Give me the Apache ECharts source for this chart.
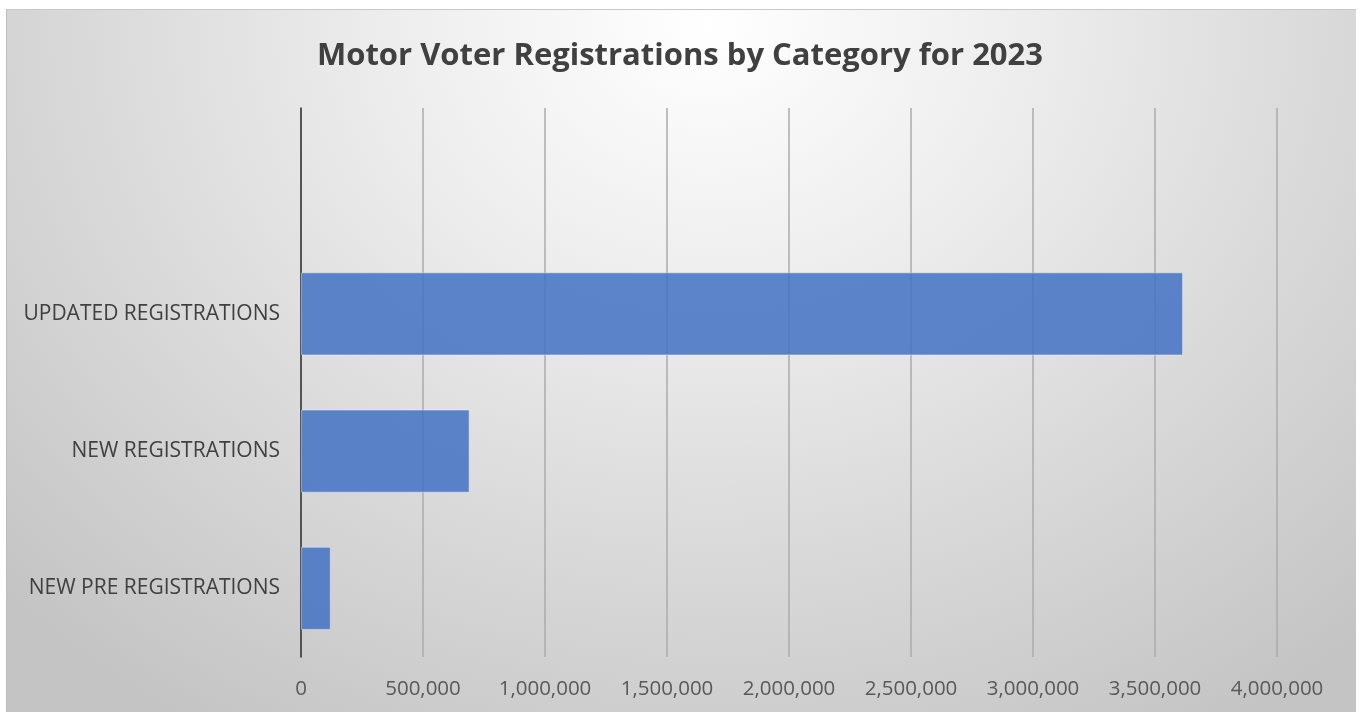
<!DOCTYPE html>
<html>
<head>
<meta charset="utf-8">
<title>Motor Voter Registrations by Category for 2023</title>
<script src="https://cdn.jsdelivr.net/npm/echarts@6/dist/echarts.min.js"></script>
<style>
  html, body { margin: 0; padding: 0; background: #ffffff; }
  #panel {
    position: absolute; left: 6px; top: 9px; width: 1350px; height: 703px;
    box-sizing: border-box; border-top: 1px solid #c8c8c8; border-left: 1px solid #bdbdbd;
    background: radial-gradient(ellipse 72% 118% at 52% 2%, #ffffff 0%, #ededed 33%, #dadada 63%, #c4c4c4 100%);
  }
  #chart { position: absolute; left: 0; top: 0; width: 1360px; height: 712px; }
</style>
</head>
<body>
<div id="panel"></div>
<div id="chart"></div>
<script>
// Categories listed bottom-to-top; the last slot is an empty row at the top of the axis
const categories = ['NEW PRE REGISTRATIONS', 'NEW REGISTRATIONS', 'UPDATED REGISTRATIONS', ''];
const registrations = [122000, 691000, 3615000, null];
const chartTitle = 'Motor Voter Registrations by Category for 2023';

const chart = echarts.init(document.getElementById('chart'), null, { renderer: 'canvas' });

chart.setOption({
  backgroundColor: 'transparent',
  animation: false,
  title: {
    text: chartTitle,
    left: 'center',
    top: 36,
    textStyle: {
      fontFamily: 'Open Sans',
      fontWeight: 'bold',
      fontSize: 31,
      color: '#404040'
    }
  },
  grid: {
    left: 301,
    right: 83,
    top: 108,
    bottom: 55,
    containLabel: false,
    outerBoundsMode: 'none'
  },
  xAxis: {
    type: 'value',
    min: 0,
    max: 4000000,
    interval: 500000,
    axisLine: { show: false },
    axisTick: { show: false },
    splitLine: { show: true, lineStyle: { color: '#ababab', width: 1.5 } },
    axisLabel: {
      fontFamily: 'Open Sans',
      fontSize: 20.5,
      color: '#595959',
      margin: 22,
      formatter: v => v.toLocaleString('en-US')
    }
  },
  yAxis: {
    type: 'category',
    data: categories,
    axisLine: { show: true, lineStyle: { color: '#333333', width: 1.5 } },
    axisTick: { show: false },
    splitLine: { show: false },
    axisLabel: {
      fontFamily: 'Open Sans',
      fontSize: 21,
      color: '#404040',
      margin: 21
    }
  },
  series: [{
    type: 'bar',
    data: registrations,
    barCategoryGap: '39.5%',
    itemStyle: {
      color: 'rgba(68,114,196,0.86)',
      borderColor: 'rgba(255,255,255,0.4)',
      borderWidth: 1
    }
  }]
});
</script>
</body>
</html>
